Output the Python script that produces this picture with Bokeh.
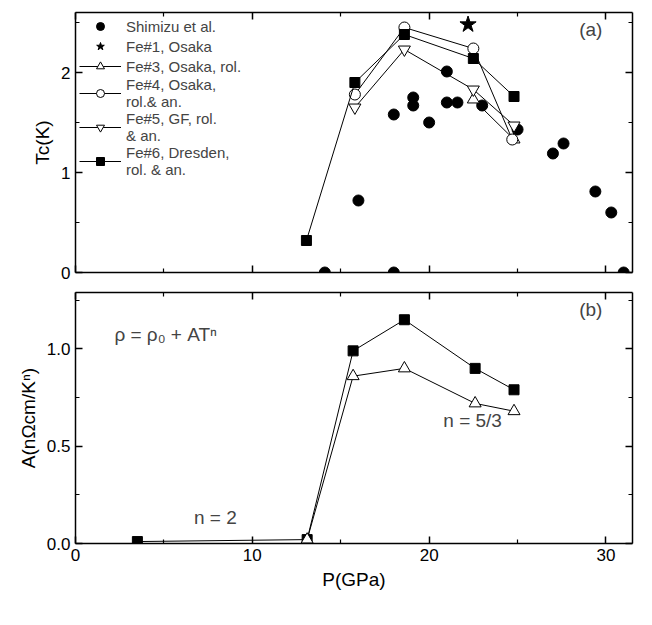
from bokeh.plotting import figure
from bokeh.layouts import column
from bokeh.models import (Range1d, LinearAxis, Label, Legend, LegendItem, FixedTicker,
                          PrintfTickFormatter)
from bokeh.embed import file_html
from bokeh.resources import INLINE

shim_p = [14.1, 16.0, 18.0, 18.0, 19.1, 19.1, 20.0, 21.0, 21.0, 21.6, 23.0, 25.0, 27.0, 27.6, 29.4, 30.3, 31.0]
shim_tc = [0.0, 0.72, 0.0, 1.58, 1.75, 1.67, 1.50, 2.01, 1.70, 1.70, 1.67, 1.43, 1.19, 1.29, 0.81, 0.60, 0.0]
fe1_p = [22.2]; fe1_tc = [2.48]
fe3_p = [22.5, 24.8]; fe3_tc = [1.73, 1.33]
fe4_p = [15.8, 18.6, 22.5, 24.7]; fe4_tc = [1.78, 2.45, 2.24, 1.33]
fe5_p = [15.8, 18.6, 22.5, 24.8]; fe5_tc = [1.65, 2.23, 1.83, 1.47]
fe6_p = [13.06, 15.8, 18.6, 22.5, 24.8]; fe6_tc = [0.32, 1.90, 2.38, 2.14, 1.76]
a6_p = [3.5, 13.1, 15.7, 18.6, 22.6, 24.8]; a6 = [0.01, 0.02, 0.99, 1.15, 0.90, 0.79]
a3_p = [13.1, 15.7, 18.6, 22.6, 24.8]; a3 = [0.02, 0.86, 0.90, 0.72, 0.68]
x_ticks = [0, 10, 20, 30]; x_minor = [5, 15, 25]
tc_ticks = [0, 1, 2]; tc_minor = [0.5, 1.5, 2.5]
a_ticks = [0, 0.5, 1.0]; a_minor = [0.25, 0.75, 1.25]

FONT = "Liberation Sans"

def setup(p, yt, ym, xlabels, ylabel, xlabel=None, yfmt=None):
    xt = FixedTicker(ticks=x_ticks, minor_ticks=x_minor)
    ytk = FixedTicker(ticks=yt, minor_ticks=ym)
    for side, tk in [("below", xt), ("left", ytk), ("above", xt), ("right", ytk)]:
        ax = LinearAxis(ticker=tk, major_tick_in=7, major_tick_out=0, minor_tick_in=4, minor_tick_out=0,
                        axis_line_width=1.5, major_tick_line_width=1.5, minor_tick_line_width=1.2,
                        major_label_text_font=FONT, major_label_text_font_size="17px",
                        major_label_text_color="black",
                        axis_label_text_font=FONT, axis_label_text_font_size="19px",
                        axis_label_text_font_style="normal", axis_label_text_color="black")
        if side in ("above", "right") or (side == "below" and not xlabels):
            ax.major_label_text_font_size = "0px"
        if side == "left":
            ax.axis_label = ylabel
            if yfmt:
                ax.formatter = PrintfTickFormatter(format=yfmt)
        if side == "below" and xlabel:
            ax.axis_label = xlabel
        p.add_layout(ax, side)
    p.grid.visible = False
    p.outline_line_color = None

def fig(h, yr, top, bottom):
    return figure(width=640, height=h, x_range=Range1d(0, 31.5), y_range=yr,
                  x_axis_type=None, y_axis_type=None,
                  output_backend="svg", toolbar_location=None, min_border_left=75, min_border_right=8,
                  min_border_top=top, min_border_bottom=bottom)

p1 = fig(282, Range1d(0, 2.6), 12, 10)
setup(p1, tc_ticks, tc_minor, False, "Tc(K)")

r0 = p1.scatter(shim_p, shim_tc, marker="circle", size=11, color="black")
r1 = p1.scatter(fe1_p, fe1_tc, marker="star", size=17, color="black")
l3 = p1.line(fe3_p, fe3_tc, color="black", line_width=1)
m3 = p1.scatter(fe3_p, fe3_tc, marker="triangle", size=12, fill_color="white", line_color="black")
l4 = p1.line(fe4_p, fe4_tc, color="black", line_width=1)
m4 = p1.scatter(fe4_p, fe4_tc, marker="circle", size=11, fill_color="white", line_color="black")
l5 = p1.line(fe5_p, fe5_tc, color="black", line_width=1)
m5 = p1.scatter(fe5_p, fe5_tc, marker="inverted_triangle", size=12, fill_color="white", line_color="black")
l6 = p1.line(fe6_p, fe6_tc, color="black", line_width=1)
m6 = p1.scatter(fe6_p, fe6_tc, marker="square", size=10, color="black")

leg = Legend(items=[
    LegendItem(label="Shimizu et al.", renderers=[r0]),
    LegendItem(label="Fe#1, Osaka", renderers=[r1]),
    LegendItem(label="Fe#3, Osaka, rol.", renderers=[l3, m3]),
    LegendItem(label="Fe#4, Osaka,\nrol.& an.", renderers=[l4, m4]),
    LegendItem(label="Fe#5, GF, rol.\n& an.", renderers=[l5, m5]),
    LegendItem(label="Fe#6, Dresden,\nrol. & an.", renderers=[l6, m6]),
], location="top_left", border_line_color=None, background_fill_alpha=0,
    label_text_font=FONT, label_text_font_size="15px", spacing=0, padding=2,
    label_height=18, glyph_width=42, margin=4)
p1.add_layout(leg)
p1.add_layout(Label(x=29.8, y=2.33, text="(a)", text_font=FONT, text_font_size="19px", text_align="right"))

p2 = fig(325, Range1d(0, 1.29), 10, 64)
setup(p2, a_ticks, a_minor, True, "A(nΩcm/Kⁿ)", "P(GPa)", "%.1f")

p2.line(a6_p, a6, color="black", line_width=1)
p2.scatter(a6_p, a6, marker="square", size=10, color="black")
p2.line(a3_p, a3, color="black", line_width=1)
p2.scatter(a3_p, a3, marker="triangle", size=12, fill_color="white", line_color="black")
p2.add_layout(Label(x=29.8, y=1.15, text="(b)", text_font=FONT, text_font_size="19px", text_align="right"))
p2.add_layout(Label(x=2.2, y=1.02, text="ρ = ρ₀ + ATⁿ", text_font=FONT, text_font_size="19px"))
p2.add_layout(Label(x=20.8, y=0.58, text="n = 5/3", text_font=FONT, text_font_size="19px"))
p2.add_layout(Label(x=6.7, y=0.08, text="n = 2", text_font=FONT, text_font_size="19px"))

open("out.html", "w").write(file_html(column(p1, p2, spacing=0), INLINE))
